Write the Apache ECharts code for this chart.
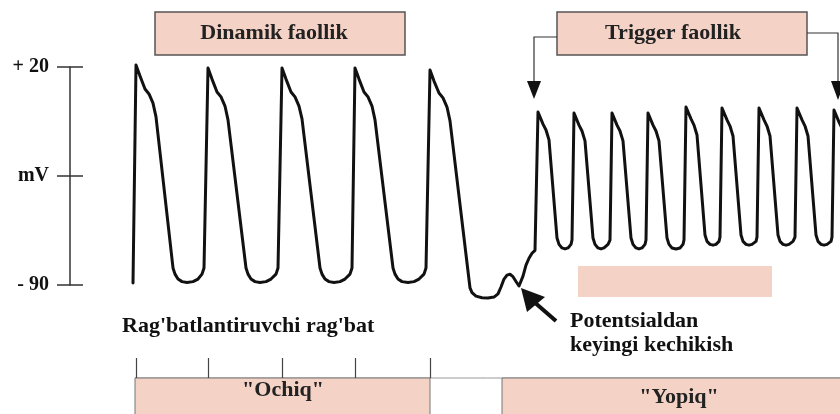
<!DOCTYPE html>
<html>
<head>
<meta charset="utf-8">
<script src="https://cdn.jsdelivr.net/npm/echarts@6/dist/echarts.min.js"></script>
<style>
  html, body { margin: 0; padding: 0; background: #fff; }
  #chart { width: 840px; height: 414px; }
</style>
</head>
<body>
<div id="chart"></div>
<script>
// vaqt (ixtiyoriy birlik) va kuchlanish (mV)
var dinamikTrace = [
  [133, -89.0], [136, 21.0], [140, 15.5], [145, 8.9], [149, 6.4], [153, 1.8], [156, -5.2],
  [173, -81.4], [175, -84.5], [178, -87.0], [182, -88.3], [187, -88.7], [193, -88.3], [198, -87.0], [202, -84.5], [204, -81.4],
  [208, 19.5], [212, 13.9], [217, 7.4], [221, 4.9], [225, 0.3], [228, -6.7],
  [246, -81.4], [248, -84.5], [251, -87.0], [255, -88.3], [260, -88.7], [266, -88.3], [271, -87.0], [276, -84.5], [278, -81.4],
  [282, 19.5], [286, 13.9], [291, 7.4], [295, 4.9], [299, 0.3], [302, -6.2],
  [320, -81.4], [322, -84.5], [325, -87.0], [329, -88.3], [334, -88.7], [340, -88.3], [345, -87.0], [350, -84.5], [352, -81.4],
  [355, 19.5], [359, 13.9], [364, 7.4], [368, 4.9], [372, 0.3], [375, -6.7],
  [393, -81.4], [395, -84.5], [398, -87.0], [402, -88.3], [408, -88.7], [414, -88.3], [419, -87.0], [424, -84.5], [426, -81.4],
  [430, 18.5], [434, 12.9], [439, 6.9], [443, 4.4], [447, -0.2], [450, -7.2]
];
// potentsialdan keyingi kechikish
var kechikishTrace = [
  [470, -91.5], [472, -93.8], [476, -95.6], [482, -96.4], [488, -96.6], [494, -96.1], [498, -94.5],
  [501, -91.0], [504, -87.0], [507, -85.0], [510, -84.6], [513, -85.8], [516, -88.2], [519, -90.5], [521, -89.5],
  [523, -85.5], [526, -80.0], [529, -76.5], [532, -74.0], [535, -72.5], [537, -71.8]
];
var triggerTrace = [
  [538, -2.7], [543, -8.8], [546, -11.8], [549, -16.8], [557, -66.3], [559, -69.5], [562, -71.3], [565, -71.8], [568, -71.3], [571, -69.5], [572, -67.3],
  [574, -3.2], [579, -9.3], [582, -12.3], [585, -17.3], [593, -66.3], [595, -69.5], [598, -71.3], [601, -71.8], [604, -71.3], [608, -69.5], [610, -67.3],
  [612, -3.2], [617, -9.3], [620, -12.3], [623, -17.3], [631, -66.3], [633, -69.5], [636, -71.3], [639, -71.8], [642, -71.3], [645, -69.5], [646, -67.3],
  [648, -3.2], [653, -9.3], [656, -12.3], [659, -17.3], [667, -66.3], [669, -69.5], [672, -71.3], [676, -71.8], [680, -71.3], [683, -69.5], [684, -67.3],
  [686, -0.2], [691, -6.2], [694, -9.3], [697, -14.3], [705, -64.8], [707, -68.0], [710, -69.5], [713, -69.9], [716, -69.5], [719, -68.0], [720, -65.8],
  [722, -0.7], [727, -6.7], [730, -9.8], [733, -14.8], [741, -64.8], [743, -68.0], [746, -69.5], [749, -69.9], [752, -69.5], [756, -68.0], [757, -65.8],
  [759, -0.7], [764, -6.7], [767, -9.8], [770, -14.8], [778, -64.8], [780, -68.0], [783, -69.5], [786, -69.9], [789, -69.5], [793, -68.0], [795, -65.8],
  [797, -0.7], [802, -6.7], [805, -9.8], [808, -14.8], [816, -64.8], [818, -68.0], [821, -69.5], [824, -69.9], [827, -69.5], [831, -68.0], [832, -65.8],
  [834, -1.7], [839, -7.8], [842, -10.8]
];
var stimulusTimes = [136, 208, 282, 355, 430];
var yTickValues = [20, -35, -90];
var yTickLabels = { '20': '+ 20', '-35': 'mV', '-90': '- 90' };

var pink = '#f4d2c6';
var serif = '"Liberation Serif", "Times New Roman", serif';

var chart = echarts.init(document.getElementById('chart'), null, { renderer: 'canvas' });

function boxText(text, cx, cy) {
  return {
    type: 'text', x: cx, y: cy, z: 10,
    style: { text: text, font: 'bold 22px ' + serif, fill: '#222', align: 'center', verticalAlign: 'middle' }
  };
}
function plainText(text, x, cy) {
  return {
    type: 'text', x: x, y: cy, z: 10,
    style: { text: text, font: 'bold 22px ' + serif, fill: '#111', align: 'left', verticalAlign: 'middle' }
  };
}

var option = {
  backgroundColor: '#ffffff',
  animation: false,
  grid: [
    { left: 70, right: 0, top: 67, height: 218 },
    { left: 70, right: 0, top: 358, height: 20 }
  ],
  xAxis: [
    { type: 'value', gridIndex: 0, min: 70, max: 840, show: false },
    {
      type: 'value', gridIndex: 1, min: 70, max: 840,
      axisLine: { show: false },
      axisTick: { show: true, inside: true, length: 20, customValues: stimulusTimes, lineStyle: { color: '#444', width: 1.2 } },
      axisLabel: { show: false },
      splitLine: { show: false }
    }
  ],
  yAxis: [
    {
      type: 'value', gridIndex: 0, min: -90, max: 20, position: 'left',
      axisLine: { show: true, lineStyle: { color: '#333', width: 1.5 } },
      axisTick: { show: true, inside: true, length: 13, customValues: yTickValues, lineStyle: { color: '#333', width: 1.5 } },
      axisLabel: {
        show: true, margin: 21, customValues: yTickValues,
        formatter: function (v) { return yTickLabels[String(v)]; },
        color: '#111', fontFamily: serif, fontWeight: 'bold', fontSize: 20
      },
      splitLine: { show: false }
    },
    {
      type: 'value', gridIndex: 0, min: -90, max: 20, position: 'left', offset: 0,
      axisLine: { show: false },
      axisTick: { show: true, inside: false, length: 13, customValues: yTickValues, lineStyle: { color: '#333', width: 1.5 } },
      axisLabel: { show: false },
      splitLine: { show: false }
    },
    { type: 'value', gridIndex: 1, min: 0, max: 1, show: false }
  ],
  series: [
    {
      type: 'line',
      xAxisIndex: 0, yAxisIndex: 0,
      data: dinamikTrace.concat(kechikishTrace, triggerTrace),
      showSymbol: false,
      clip: false,
      lineStyle: { color: '#111', width: 3, cap: 'round', join: 'round' },
      silent: true
    }
  ],
  graphic: [
    { type: 'rect', shape: { x: 155, y: 12, width: 250, height: 43 }, style: { fill: pink, stroke: '#555', lineWidth: 1.5 } },
    boxText('Dinamik faollik', 274, 33),
    { type: 'rect', shape: { x: 557, y: 12, width: 250, height: 43 }, style: { fill: pink, stroke: '#555', lineWidth: 1.5 } },
    boxText('Trigger faollik', 673, 33),
    // qavs strelkalari
    { type: 'polyline', shape: { points: [[557, 37], [534, 37], [534, 84]] }, style: { stroke: '#333', lineWidth: 1.2, fill: null } },
    { type: 'polygon', shape: { points: [[527, 81], [541, 81], [534, 99]] }, style: { fill: '#111' } },
    { type: 'polyline', shape: { points: [[807, 33], [838, 33], [838, 84]] }, style: { stroke: '#333', lineWidth: 1.2, fill: null } },
    { type: 'polygon', shape: { points: [[831, 81], [845, 81], [838, 100]] }, style: { fill: '#111' } },
    { type: 'rect', shape: { x: 578, y: 266, width: 194, height: 31 }, style: { fill: pink } },
    plainText("Rag'batlantiruvchi rag'bat", 122, 326),
    plainText('Potentsialdan', 570, 321),
    plainText('keyingi kechikish', 570, 345),
    { type: 'line', shape: { x1: 556, y1: 321, x2: 533, y2: 301 }, style: { stroke: '#111', lineWidth: 4 } },
    { type: 'polygon', shape: { points: [[521, 288], [527, 312], [545, 297]] }, style: { fill: '#111' } },
    // pastki bloklar
    { type: 'line', shape: { x1: 135, y1: 378, x2: 840, y2: 378 }, style: { stroke: '#999', lineWidth: 1 } },
    { type: 'rect', shape: { x: 135, y: 378, width: 295, height: 40 }, style: { fill: pink, stroke: '#777', lineWidth: 1 } },
    boxText('"Ochiq"', 283, 390),
    { type: 'rect', shape: { x: 502, y: 378, width: 340, height: 40 }, style: { fill: pink, stroke: '#777', lineWidth: 1 } },
    boxText('"Yopiq"', 679, 397)
  ]
};
chart.setOption(option);
</script>
</body>
</html>
